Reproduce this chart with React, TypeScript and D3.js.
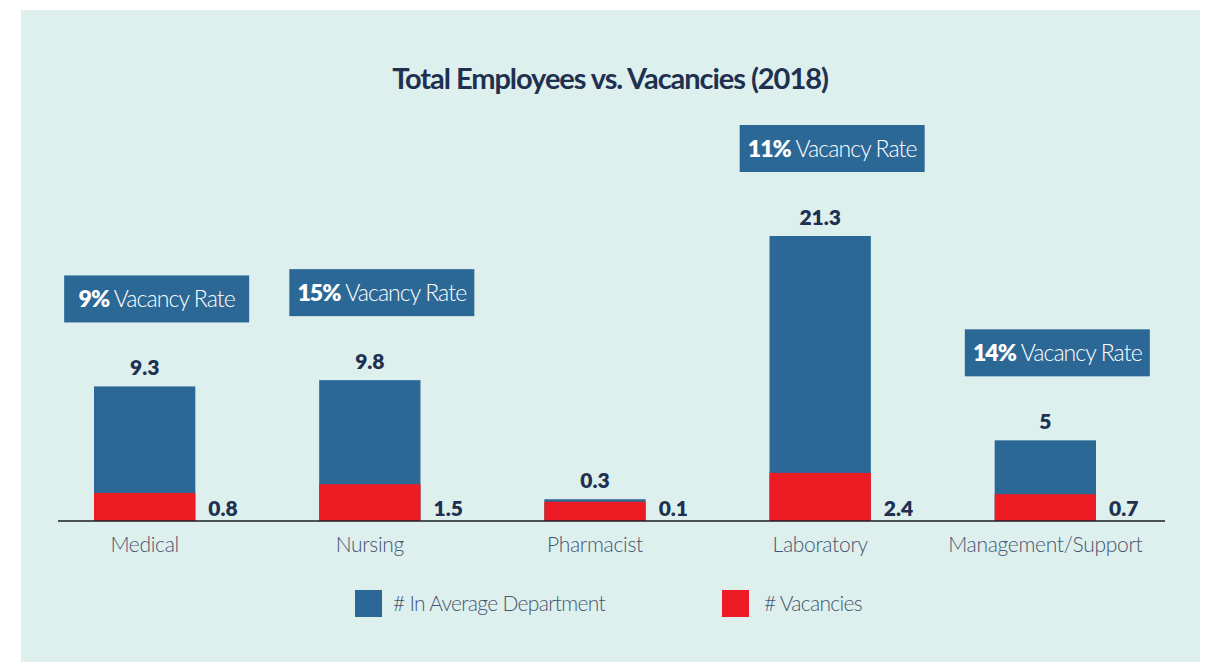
import React from 'react';
import * as d3 from 'd3';

// values
const categories = ['Medical', 'Nursing', 'Pharmacist', 'Laboratory', 'Management/Support'];
const avgDepartment = [9.3, 9.8, 0.3, 21.3, 5];
const vacancies = [0.8, 1.5, 0.1, 2.4, 0.7];
const vacancyRates: (number | null)[] = [9, 15, null, 11, 14];
const seriesNames = ['# In Average Department', '# Vacancies'];
const chartTitle = 'Total Employees vs. Vacancies (2018)';

const W = 1206;
const H = 662;
const baseline = 521;
const blue = '#2c6896';
const red = '#ed1c24';
const navy = '#1f3050';
const grey = '#46546e';
const font = 'Lato, "Open Sans", sans-serif';

export default function App() {
  const x = d3
    .scaleBand<string>()
    .domain(categories)
    .range([94, 1096])
    .paddingInner(0.55)
    .paddingOuter(0);

  // the original bars keep a small stub even for tiny values
  const h = d3.scaleLinear().domain([0, 21.3]).range([18, 285]);

  const color = d3.scaleOrdinal<string, string>().domain(seriesNames).range([blue, red]);
  const legendX = d3.scaleOrdinal<string, number>().domain(seriesNames).range([355, 722]);

  const bw = x.bandwidth();

  return (
    <div style={{ position: 'fixed', left: 0, top: 0 }}>
      <svg width={W} height={H} style={{ display: 'block', fontFamily: font }}>
        <rect x={0} y={0} width={W} height={H} fill="#ffffff" />
        <rect x={21} y={10} width={1179} height={H - 10} fill="#ddf0ee" />

        <text
          x={610}
          y={89}
          textAnchor="middle"
          fontSize={29}
          fontWeight={700}
          letterSpacing={-1.05}
          fill={navy}
        >
          {chartTitle}
        </text>

        {categories.map((c, i) => {
          const x0 = x(c) as number;
          const topAvg = baseline - h(avgDepartment[i]);
          const topVac = baseline - h(vacancies[i]);
          const rate = vacancyRates[i];
          const boxW = 185;
          const boxH = 47;
          const boxCx = x0 + bw / 2 + 12;
          const boxY = topAvg - 64 - boxH;
          return (
            <g key={c}>
              <rect x={x0} y={topAvg} width={bw} height={baseline - topAvg} fill={color(seriesNames[0])} />
              <rect x={x0} y={topVac} width={bw} height={baseline - topVac} fill={color(seriesNames[1])} />
              <text
                x={x0 + bw / 2}
                y={topAvg - 11}
                textAnchor="middle"
                fontSize={21}
                fontWeight={800}
                fill={navy}
              >
                {String(avgDepartment[i])}
              </text>
              <text x={x0 + bw + 13} y={baseline - 5} fontSize={21} fontWeight={800} fill={navy}>
                {String(vacancies[i])}
              </text>
              <text
                x={x0 + bw / 2}
                y={552}
                textAnchor="middle"
                fontSize={21}
                fontWeight={300}
                letterSpacing={-0.3}
                fill={grey}
              >
                {c}
              </text>
              {rate !== null && (
                <g>
                  <rect x={boxCx - boxW / 2} y={boxY} width={boxW} height={boxH} fill={blue} />
                  <text
                    x={boxCx}
                    y={boxY + 32}
                    textAnchor="middle"
                    fontSize={23}
                    fill="#ffffff"
                    letterSpacing={-0.9}
                  >
                    <tspan fontWeight={800}>{rate}%</tspan>
                    <tspan fontWeight={300}> Vacancy Rate</tspan>
                  </text>
                </g>
              )}
            </g>
          );
        })}

        <line x1={58} x2={1165} y1={baseline} y2={baseline} stroke="#1b1f24" strokeWidth={1.5} />

        {seriesNames.map((s) => (
          <g key={s} transform={`translate(${legendX(s)},590)`}>
            <rect x={0} y={0} width={27} height={27} fill={color(s)} />
            <text
              x={s === seriesNames[0] ? 38 : 42}
              y={21}
              fontSize={21}
              fontWeight={300}
              fill={grey}
              letterSpacing={-0.7}
            >
              {s}
            </text>
          </g>
        ))}
      </svg>
    </div>
  );
}
